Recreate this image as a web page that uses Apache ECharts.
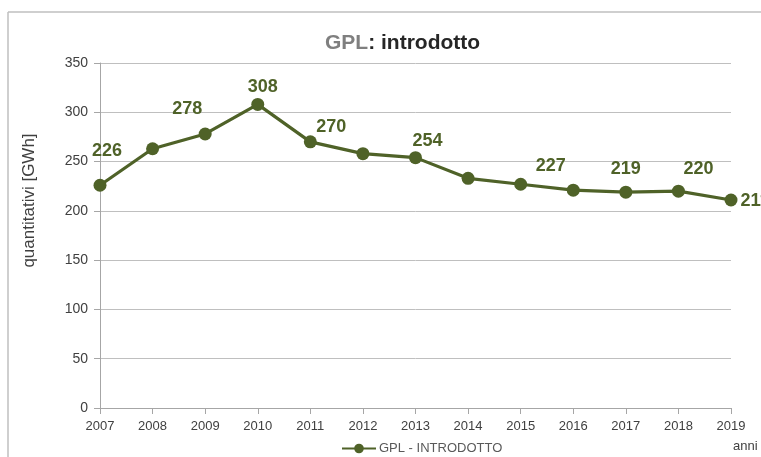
<!DOCTYPE html>
<html>
<head>
<meta charset="utf-8">
<script src="https://cdn.jsdelivr.net/npm/echarts@6/dist/echarts.min.js"></script>
<style>
  html, body { margin: 0; padding: 0; background: #fff; }
  #chart { width: 761px; height: 457px; }
</style>
</head>
<body>
<div id="chart"></div>
<script>
// dati
const anni = ['2007', '2008', '2009', '2010', '2011', '2012', '2013', '2014', '2015', '2016', '2017', '2018', '2019'];
const gplIntrodotto = [226, 263, 278, 308, 270, 258, 254, 233, 227, 221, 219, 220, 211];
const yTicks = [0, 50, 100, 150, 200, 250, 300, 350];

const verde = '#4f6228';

// etichette spostate a mano come nell'originale (null = nessuna etichetta)
const labelOffsets = [
  [7, -34], null, [-18, -25], [5, -17], [21, -15], null, [12, -17],
  null, [30, -18], null, [0, -23], [20, -22], [24, 1]
];

const seriesData = gplIntrodotto.map((v, i) => {
  const off = labelOffsets[i];
  return {
    value: v,
    label: off ? { show: true, position: 'inside', offset: off } : { show: false }
  };
});

const chart = echarts.init(document.getElementById('chart'));
chart.setOption({
  animation: false,
  backgroundColor: '#fff',
  textStyle: { fontFamily: 'Liberation Sans, Arial, sans-serif' },
  title: {
    text: '{g|GPL}{d|: introdotto}',
    left: 320,
    top: 28,
    textStyle: {
      rich: {
        g: { fontSize: 21, fontWeight: 'bold', color: '#7f7f7f', fontFamily: 'Liberation Sans' },
        d: { fontSize: 21, fontWeight: 'bold', color: '#262626', fontFamily: 'Liberation Sans' }
      }
    }
  },
  graphic: [
    { type: 'line', shape: { x1: 8, y1: 12, x2: 761, y2: 12 }, style: { stroke: '#bfbfbf', lineWidth: 1.5 } },
    { type: 'line', shape: { x1: 8, y1: 12, x2: 8, y2: 457 }, style: { stroke: '#bfbfbf', lineWidth: 1.5 } }
  ],
  legend: {
    data: ['GPL - INTRODOTTO'],
    left: 336,
    top: 437,
    itemWidth: 34,
    itemHeight: 12,
    itemGap: 4,
    textStyle: { fontSize: 13, color: '#595959', padding: [0, 0, 0, -2] }
  },
  grid: { left: 100, right: 30, top: 63, bottom: 49 },
  xAxis: {
    type: 'category',
    data: anni,
    boundaryGap: false,
    name: 'anni',
    nameLocation: 'end',
    nameGap: 2,
    nameTextStyle: { fontSize: 13, color: '#404040', align: 'left', verticalAlign: 'top', padding: [32, 0, 0, 0] },
    axisLine: { lineStyle: { color: '#a6a6a6', width: 1 } },
    axisTick: { show: true, length: 6, lineStyle: { color: '#a6a6a6' } },
    axisLabel: { fontSize: 13, color: '#404040', margin: 12 }
  },
  yAxis: {
    type: 'value',
    min: yTicks[0],
    max: yTicks[yTicks.length - 1],
    interval: 50,
    name: 'quantitativi [GWh]',
    nameLocation: 'middle',
    nameGap: 62,
    nameTextStyle: { fontSize: 17, color: '#404040', padding: [0, 0, 0, 70] },
    axisLine: { show: true, lineStyle: { color: '#a6a6a6' } },
    axisTick: { show: true, length: 6, lineStyle: { color: '#a6a6a6' } },
    axisLabel: { fontSize: 14, color: '#404040', margin: 12 },
    splitLine: { lineStyle: { color: '#bfbfbf' } }
  },
  series: [{
    name: 'GPL - INTRODOTTO',
    type: 'line',
    data: seriesData,
    symbol: 'circle',
    symbolSize: 13,
    lineStyle: { color: verde, width: 3.2 },
    itemStyle: { color: verde },
    label: {
      fontSize: 18,
      fontWeight: 'bold',
      color: verde,
      fontFamily: 'Liberation Sans'
    }
  }]
});
</script>
</body>
</html>
